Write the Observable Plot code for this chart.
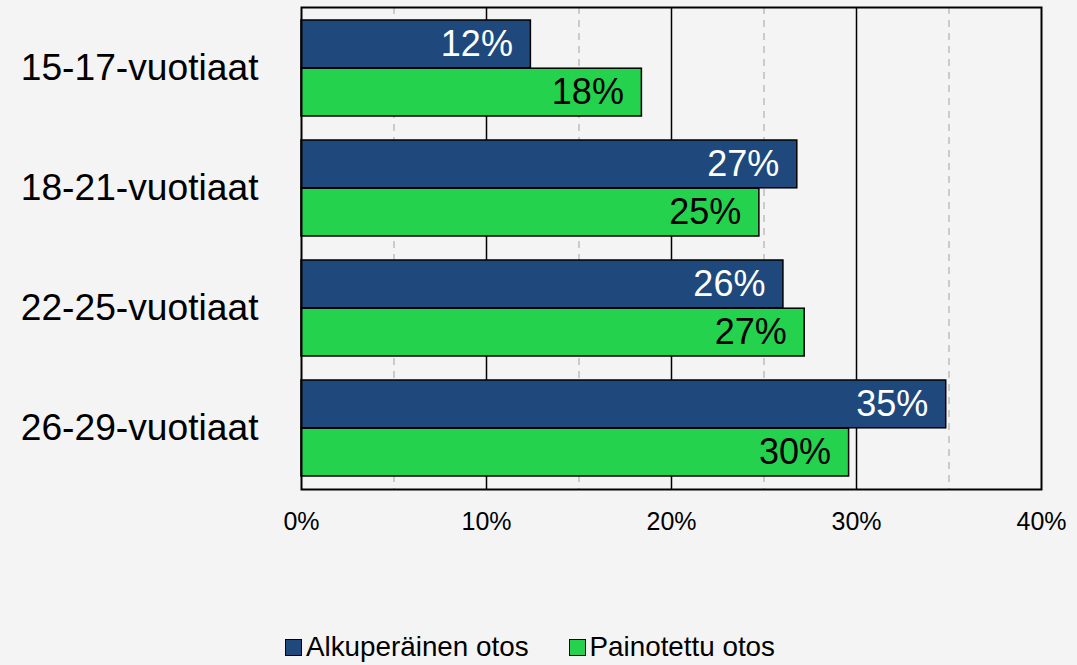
<!DOCTYPE html>
<html><head><meta charset="utf-8">
<script src="https://cdn.jsdelivr.net/npm/d3@7"></script>
<script src="https://cdn.jsdelivr.net/npm/@observablehq/plot@0.6"></script>
<style>
body{margin:0;background:#f4f4f4;font-family:"Liberation Sans",Arial,sans-serif;}
#wrap{position:relative;width:1077px;height:665px;background:#f4f4f4;}
#legend{position:absolute;left:285px;top:630px;height:34px;display:flex;align-items:center;font-size:27.8px;color:#000;white-space:nowrap;}
.item{display:flex;align-items:center;margin-right:40px}
.sw{width:15px;height:15px;border:1.5px solid #000;margin-right:4px}
</style></head><body><div id="wrap"><div id="chart"></div><div id="legend"></div></div>
<script>
const categories = ["15-17-vuotiaat", "18-21-vuotiaat", "22-25-vuotiaat", "26-29-vuotiaat"];
const seriesNames = ["Alkuperäinen otos", "Painotettu otos"];
const originalValues = [12.4, 26.8, 26.05, 34.85];
const weightedValues = [18.4, 24.75, 27.2, 29.6];
const xTicks = [0, 10, 20, 30, 40];
const solidGrid = [10, 20, 30];
const dashedGrid = [5, 15, 25, 35];
const seriesColors = ["#1f497d", "#24d24e"];
const labelColors = ["#ffffff", "#000000"];

const W = 1077, H = 620, mt = 7, mb = 131, ml = 301, mr = 36;
const pInner = 0.2, pOuter = 0.1;
const step = (H - mt - mb) / (categories.length - pInner + 2 * pOuter);
const half = step * (1 - pInner) / 2;

const orig = categories.map((c, i) => ({category: c, value: originalValues[i], label: Math.round(originalValues[i]) + "%"}));
const weig = categories.map((c, i) => ({category: c, value: weightedValues[i], label: Math.round(weightedValues[i]) + "%"}));

const chart = Plot.plot({
  width: W, height: H, marginTop: mt, marginBottom: mb, marginLeft: ml, marginRight: mr,
  style: {fontFamily: '"Liberation Sans", Arial, sans-serif', background: "transparent", color: "#000", overflow: "visible"},
  x: {domain: [0, 40]},
  y: {domain: categories, paddingInner: pInner, paddingOuter: pOuter},
  marks: [
    Plot.ruleX(dashedGrid, {stroke: "#bdbdbd", strokeWidth: 1.5, strokeDasharray: "7,6"}),
    Plot.ruleX(solidGrid, {stroke: "#000", strokeWidth: 1.5}),
    Plot.barX(orig, {x: "value", y: "category", fill: seriesColors[0], stroke: "#000", strokeWidth: 1.5, insetBottom: half}),
    Plot.barX(weig, {x: "value", y: "category", fill: seriesColors[1], stroke: "#000", strokeWidth: 1.5, insetTop: half}),
    Plot.text(orig, {x: "value", y: "category", text: "label", textAnchor: "end", dx: -18, dy: -half / 2, fill: labelColors[0], fontSize: 36}),
    Plot.text(weig, {x: "value", y: "category", text: "label", textAnchor: "end", dx: -18, dy: half / 2, fill: labelColors[1], fontSize: 36}),
    Plot.frame({stroke: "#000", strokeWidth: 2}),
    Plot.axisX({ticks: xTicks, tickSize: 0, tickPadding: 23, fontSize: 25, tickFormat: d => d + "%", label: null}),
    Plot.axisY({tickSize: 0, tickPadding: 43, fontSize: 37.2, label: null})
  ]
});
document.getElementById("chart").appendChild(chart);

const legend = document.getElementById("legend");
seriesNames.forEach((n, i) => {
  const it = document.createElement("div");
  it.className = "item";
  const sw = document.createElement("div");
  sw.className = "sw";
  sw.style.background = seriesColors[i];
  const t = document.createElement("span");
  t.textContent = n;
  it.appendChild(sw); it.appendChild(t);
  legend.appendChild(it);
});
</script></body></html>
